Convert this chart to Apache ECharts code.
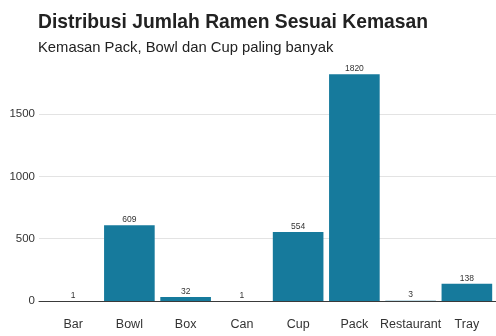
<!DOCTYPE html>
<html>
<head>
<meta charset="utf-8">
<script src="https://cdn.jsdelivr.net/npm/echarts@6/dist/echarts.min.js"></script>
<style>
  html, body { margin: 0; padding: 0; background: #fff; }
  #chart { width: 496px; height: 336px; }
</style>
</head>
<body>
<div id="chart"></div>
<script>
"use strict";

// data
const kemasan = ["Bar", "Bowl", "Box", "Can", "Cup", "Pack", "Restaurant", "Tray"];
const jumlah = [1, 609, 32, 1, 554, 1820, 3, 138];
const yTicks = [0, 500, 1000, 1500];

const font = "'Liberation Sans', Arial, sans-serif";
const yMax = 1911; // top of panel, ~5% headroom like ggplot

let myChart = echarts.init(document.getElementById('chart'));

let option = {
  animation: false,
  textStyle: { fontFamily: font },
  title: {
    text: "Distribusi Jumlah Ramen Sesuai Kemasan",
    subtext: "Kemasan Pack, Bowl dan Cup paling banyak",
    left: 33,
    top: 8,
    itemGap: 8,
    textStyle: { fontFamily: font, fontSize: 19.3, fontWeight: 'bold', color: '#222' },
    subtextStyle: { fontFamily: font, fontSize: 14.8, color: '#222' },
  },
  grid: [
    // background panel: grid lines + baseline
    { left: 39, right: 0, top: 63, bottom: 35 },
    // bars (ggplot-style discrete padding)
    { left: 45, right: 1, top: 63, bottom: 35 },
  ],
  xAxis: [
    {
      gridIndex: 0,
      type: 'value',
      min: 0,
      max: 1,
      axisLine: { show: true, lineStyle: { color: '#3a3a3a', width: 1 } },
      axisTick: { show: false },
      axisLabel: { show: false },
      splitLine: { show: false },
    },
    {
      gridIndex: 1,
      type: 'category',
      data: kemasan,
      axisLine: { show: false },
      axisTick: { show: false },
      axisLabel: { fontSize: 12.5, color: '#333', margin: 17, interval: 0 },
    },
  ],
  yAxis: [
    {
      gridIndex: 0,
      type: 'value',
      min: 0,
      max: yMax,
      interval: 500,
      axisLine: { show: false },
      axisTick: { show: false },
      axisLabel: {
        fontSize: 11.5,
        color: '#333',
        margin: 4,
        showMaxLabel: false,
        formatter: function (v) {
          return yTicks.indexOf(v) >= 0 ? String(v) : '';
        },
      },
      splitLine: {
        show: true,
        lineStyle: { color: ['#e3e3e3', '#e3e3e3', '#e3e3e3', '#e3e3e3', 'rgba(0,0,0,0)'], width: 1 },
      },
    },
    {
      gridIndex: 1,
      type: 'value',
      min: 0,
      max: yMax,
      show: false,
    },
  ],
  series: [
    {
      type: 'bar',
      xAxisIndex: 1,
      yAxisIndex: 1,
      data: jumlah,
      barWidth: '90%',
      itemStyle: { color: '#167a9c' },
      label: {
        show: true,
        position: 'top',
        distance: 1,
        fontSize: 8.5,
        color: '#333',
      },
    },
  ],
};

myChart.setOption(option);
</script>
</body>
</html>
